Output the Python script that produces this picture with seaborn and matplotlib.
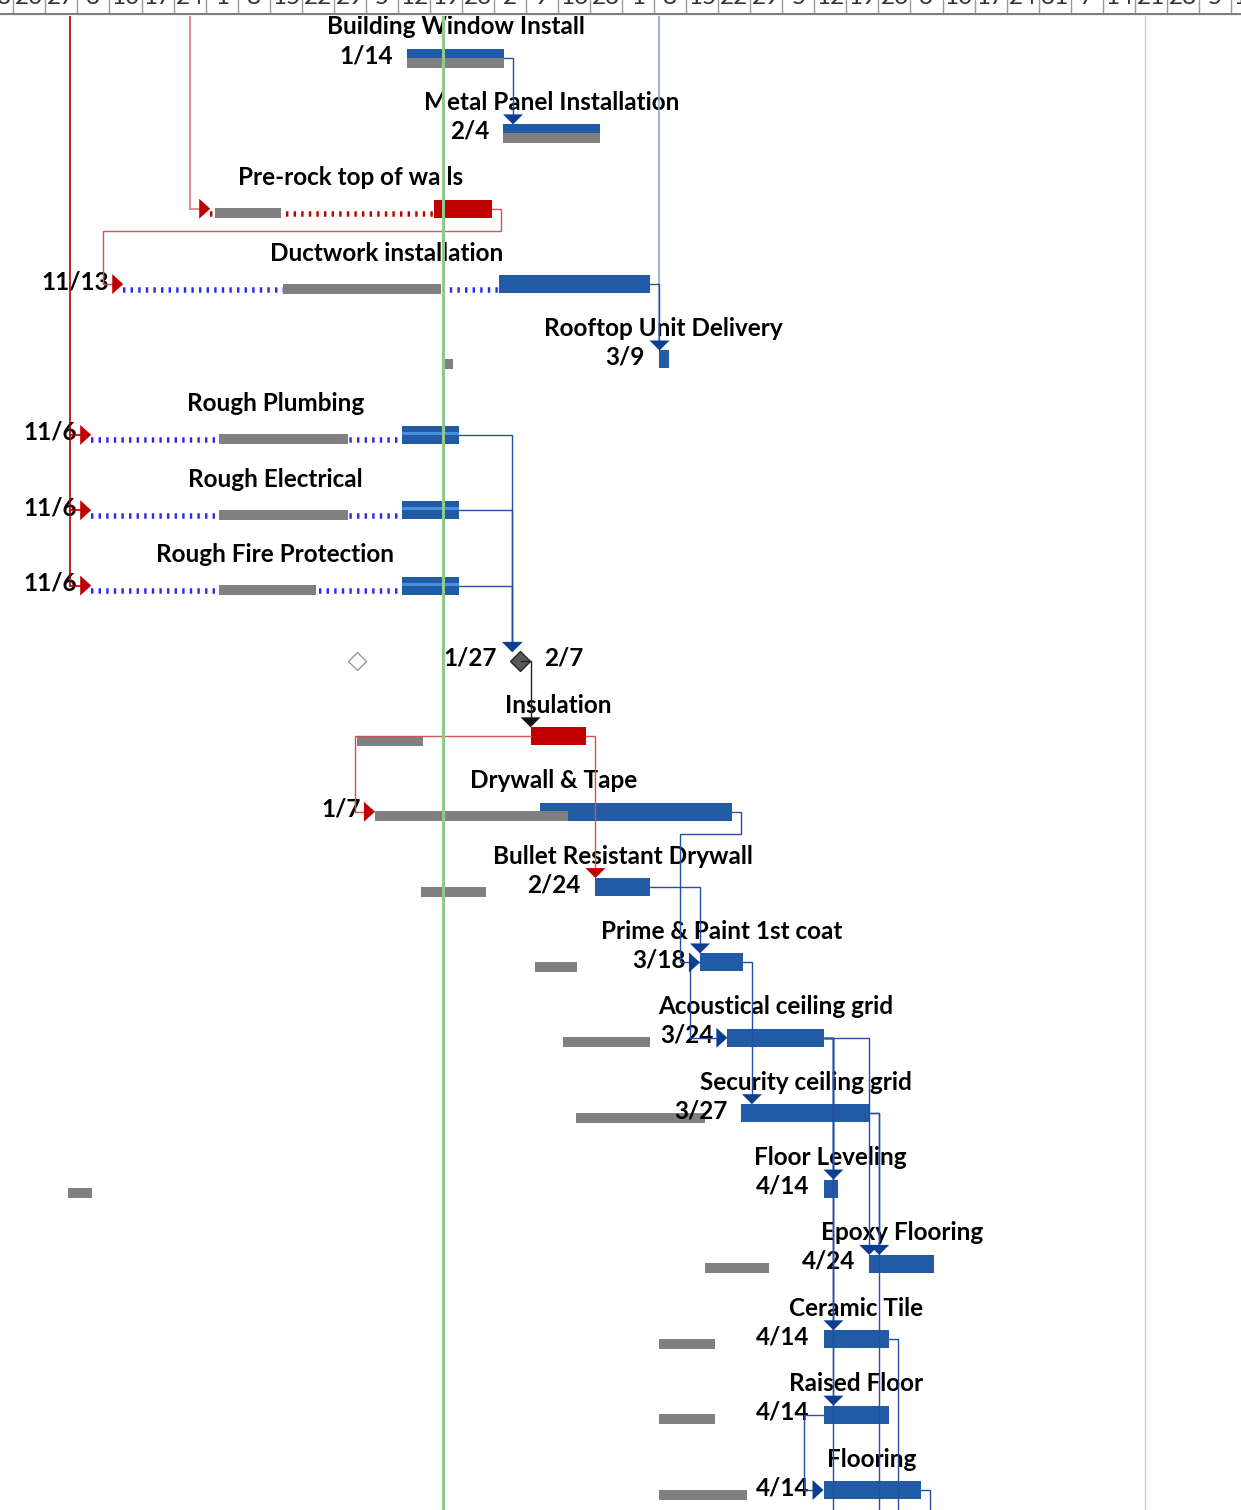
"""Gantt chart excerpt (MS Project style) redrawn with seaborn/matplotlib"""

import numpy as np
import pandas as pd
import matplotlib
matplotlib.use("Agg")
import matplotlib.pyplot as plt
import matplotlib.dates as mdates
from matplotlib.patches import Polygon
import seaborn as sns

# ---------------- data ----------------
task_names = ["Building Window Install", "Metal Panel Installation", "Pre-rock top of walls",
              "Ductwork installation", "Rooftop Unit Delivery", "Rough Plumbing",
              "Rough Electrical", "Rough Fire Protection", "", "Insulation",
              "Drywall & Tape", "Bullet Resistant Drywall", "Prime & Paint 1st coat",
              "Acoustical ceiling grid", "Security ceiling grid", "Floor Leveling",
              "Epoxy Flooring", "Ceramic Tile", "Raised Floor", "Flooring"]
task_kinds = ["blue", "blue", "red", "blue", "blue", "striped", "striped", "striped",
              "milestone", "red", "blue", "blue", "blue", "blue", "blue", "blue",
              "blue", "blue", "blue", "blue"]
starts = ["2020-01-14", "2020-02-04", "2020-01-20", "2020-02-03", "2020-03-09",
          "2020-01-13", "2020-01-13", "2020-01-13", "2020-02-07 18:00", "2020-02-10",
          "2020-02-12", "2020-02-24", "2020-03-18", "2020-03-24", "2020-03-27",
          "2020-04-14", "2020-04-24", "2020-04-14", "2020-04-14", "2020-04-14"]
durations = [21.2, 21.2, 12.5, 33.2, 2.2, 12.4, 12.4, 12.4, 0, 12.2,
             42.1, 12.2, 9.4, 21.2, 28.2, 3.1, 14.2, 14.2, 14.2, 21.2]
base_starts = ["2020-01-14", "2020-02-04", "2019-12-03", "2019-12-18", "2020-01-22",
               "2019-12-04", "2019-12-04", "2019-12-04", "2020-01-03", "2020-01-03",
               "2020-01-07", "2020-01-17", "2020-02-11", "2020-02-17", "2020-02-20",
               "2019-11-01", "2020-03-19", "2020-03-09", "2020-03-09", "2020-03-09"]
base_durations = [21.2, 21.2, 14.4, 34.5, 2.0, 28.2, 28.2, 21.1, 0, 14.4,
                  42.2, 14.2, 9.2, 19.2, 28.0, 5.2, 14.2, 12.2, 12.2, 19.2]
slack_from = [None, None, "2019-12-02", "2019-11-13", None, "2019-11-06", "2019-11-06",
              "2019-11-06", None, None, "2020-01-07", None, None, None, None, None,
              None, None, None, None]
date_labels = ["1/14", "2/4", "", "11/13", "3/9", "11/6", "11/6", "11/6", "", "",
               "1/7", "2/24", "3/18", "3/24", "3/27", "4/14", "4/24", "4/14", "4/14", "4/14"]
milestone_labels = ["1/27", "2/7"]

# dependencies (predecessor row, successor row)
links_fs = [(0, 1), (2, 3), (3, 4), (5, 8), (6, 8), (7, 8), (8, 9), (9, 11), (10, 12),
            (11, 12), (12, 14), (13, 15), (13, 16), (13, 17), (13, 18), (14, 16)]
links_ss = [(9, 10), (12, 13), (18, 19)]
links_below = [13, 14, 17, 19]                       # successors out of view
links_above = [("2019-11-01 10:00", [5, 6, 7], "#B00000"),
               ("2019-11-27 12:00", [2], "#E07A7A"),
               ("2020-03-09", [4], "#8EA6D6")]
status_date = "2020-01-21 21:00"
project_line = "2020-06-23 05:00"

# ---------------- layout ----------------
W, H = 1241, 1510
PX_DAY = 4.577            # timescale zoom
PX_ROW = 75.37            # row height
X0_PX, X0_DATE = 407, "2020-01-14"
ROW0_PX = 58
FS = 17.5

BLUE = "#215BA6"
STRIPE = "#4A8FDB"
RED = "#C00000"
GRAY = "#808080"
LINK_BLUE = "#2450A0"
ARROW_BLUE = "#0B3D91"
LINK_RED = "#CC5555"

sns.set_theme(style="white")
plt.rcParams["font.family"] = ["Lato", "DejaVu Sans"]
plt.rcParams["lines.scale_dashes"] = False

DX = 1 / PX_DAY
DY = 1 / PX_ROW


def xnum(s):
    return mdates.date2num(pd.Timestamp(s))


fig = plt.figure(figsize=(W / 100, H / 100), dpi=100)
ax = fig.add_axes([0, 0, 1, 1])
x_left = xnum(X0_DATE) - X0_PX * DX
ax.set_xlim(x_left, x_left + W * DX)
y_top = -ROW0_PX * DY
y_bot = y_top + H * DY
ax.set_ylim(y_bot, y_top)
ax.set_axis_off()

n = len(task_names)
start_num = np.array([xnum(s) for s in starts])
end_num = start_num + np.array(durations)
base_num = np.array([xnum(s) for s in base_starts])


def link_start(i):
    if task_kinds[i] == "milestone":
        return start_num[i] - 8 * DX
    if slack_from[i] is not None:
        return xnum(slack_from[i])
    return start_num[i]


def link_end(i):
    if task_kinds[i] == "milestone":
        return start_num[i] + 1 * DX
    return end_num[i]


def right_arrow(x, y, color):
    ax.add_patch(Polygon([(x - 11 * DX, y - 10 * DY), (x, y), (x - 11 * DX, y + 10 * DY)],
                         closed=True, color=color, lw=0, zorder=8))


def down_arrow(x, y, color):
    ax.add_patch(Polygon([(x - 10 * DX, y - 10 * DY), (x + 10 * DX, y - 10 * DY), (x, y)],
                         closed=True, color=color, lw=0, zorder=8))


def link_colors(i):
    if task_kinds[i] == "red":
        return LINK_RED, RED
    if task_kinds[i] == "milestone":
        return "#222222", "#111111"
    return LINK_BLUE, ARROW_BLUE


# ---------------- bars ----------------
for i in range(n):
    kind = task_kinds[i]
    if kind == "milestone":
        ax.plot(base_num[i], i, marker="D", ms=9.5, mfc="white", mec="#9A9A9A", mew=1.0, zorder=4)
        ax.plot(start_num[i], i, marker="D", ms=10.5, mfc="#595959", mec="#262626", mew=1.0, zorder=4)
        ax.text(start_num[i] - 23 * DX, i + 5 * DY, milestone_labels[0], ha="right",
                va="baseline", fontsize=FS, fontweight="bold", color="black", zorder=5)
        ax.text(start_num[i] + 24 * DX, i + 5 * DY, milestone_labels[1], ha="left",
                va="baseline", fontsize=FS, fontweight="bold", color="black", zorder=5)
        continue

    # slack line before the task
    if slack_from[i] is not None:
        sc = RED if kind == "red" else "#2B2BF0"
        ax.plot([xnum(slack_from[i]), start_num[i]], [i + 5.5 * DY] * 2, color=sc,
                lw=5.5 * 0.72, dashes=(2.4 * 0.72, 5.2 * 0.72), dash_capstyle="butt", zorder=2)

    color = RED if kind == "red" else BLUE
    ax.barh(i, durations[i], left=start_num[i], height=18 * DY, color=color, lw=0, zorder=3)
    if kind == "striped":
        ax.barh(i - 1.5 * DY, durations[i], left=start_num[i], height=3 * DY,
                color=STRIPE, lw=0, zorder=3)
    ax.barh(i + 4.5 * DY, base_durations[i], left=base_num[i], height=10 * DY,
            color=GRAY, lw=0, zorder=4)

    # labels
    x_from = link_start(i)
    ax.text((x_from + end_num[i]) / 2, i - 23.5 * DY, task_names[i], ha="center",
            va="baseline", fontsize=FS, fontweight="bold", color="black", zorder=5)
    if date_labels[i]:
        ax.text(x_from - 14 * DX, i + 5 * DY, date_labels[i], ha="right", va="baseline",
                fontsize=FS, fontweight="bold", color="black", zorder=5)

# ---------------- links ----------------
for a, b in links_fs:
    lc, ac = link_colors(a)
    xa, xb = link_end(a), link_start(b)
    if xb < xa - 9 * DX:
        x1 = xa + 9 * DX
        ym = a + 22 * DY
        x2 = xb - 20 * DX
        ax.plot([xa, x1, x1, x2, x2, xb - 10 * DX], [a, a, ym, ym, b, b],
                color=lc, lw=1.0, zorder=6)
        right_arrow(xb, b, ac)
    else:
        xt = max(xa + 9 * DX, xb)
        ytip = b - 9 * DY
        ax.plot([xa, xt, xt], [a, a, ytip - 9 * DY], color=lc, lw=1.0, zorder=6)
        down_arrow(xt, ytip, ac)

for a, b in links_ss:
    lc, ac = link_colors(a)
    xa, xb = start_num[a], link_start(b)
    x1 = xa - 10 * DX if xb > xa + DX else xb - 20 * DX
    ax.plot([xa, x1, x1, xb - 10 * DX], [a, a, b, b], color=lc, lw=1.0, zorder=6)
    right_arrow(xb, b, ac)

for a in links_below:
    lc, _ = link_colors(a)
    x1 = end_num[a] + 9 * DX
    ax.plot([end_num[a], x1, x1], [a, a, y_bot], color=lc, lw=1.0, zorder=6)

for xd, rows, col in links_above:
    x = xnum(xd)
    if all(abs(link_start(r) - x) < DX for r in rows):
        ax.plot([x, x], [y_top, rows[-1] - 18 * DY], color=col, lw=1.2, zorder=5.5)
        continue
    ax.plot([x, x], [y_top, max(rows)], color=col, lw=1.2, zorder=6)
    for r in rows:
        ax.plot([x, link_start(r) - 10 * DX], [r, r], color=col, lw=1.2, zorder=6)
        right_arrow(link_start(r), r, RED)

# status date and project line
ax.axvline(xnum(status_date), color="#8FC98F", lw=2.2, zorder=10)
ax.axvline(xnum(project_line), color="#C8C8C8", lw=0.9, zorder=1)

# ---------------- timescale header ----------------
hx = fig.add_axes([0, 1 - 16 / H, 1, 16 / H])
hx.set_xlim(ax.get_xlim())
hx.set_ylim(16, 0)
hx.set_axis_off()
hx.add_patch(plt.Rectangle((x_left, 0), W * DX, 16, color="white", zorder=0))
weeks = pd.date_range("2019-10-13", "2020-07-19", freq="W-SUN")
for wk in weeks:
    xw = xnum(wk)
    hx.plot([xw, xw], [0, 13.5], color="#9A9A9A", lw=1.0, zorder=2)
    hx.text(xw + 3.5, 4.5, str(wk.day), ha="center", va="baseline", fontsize=FS,
            color="#333333", zorder=3)
hx.plot([x_left, x_left + W * DX], [13.8, 13.8], color="#7F7F7F", lw=1.5, zorder=3)
hx.plot([x_left, x_left + W * DX], [15.6, 15.6], color="#D4D4D4", lw=1.0, zorder=3)

fig.savefig("out.png", dpi=100)
